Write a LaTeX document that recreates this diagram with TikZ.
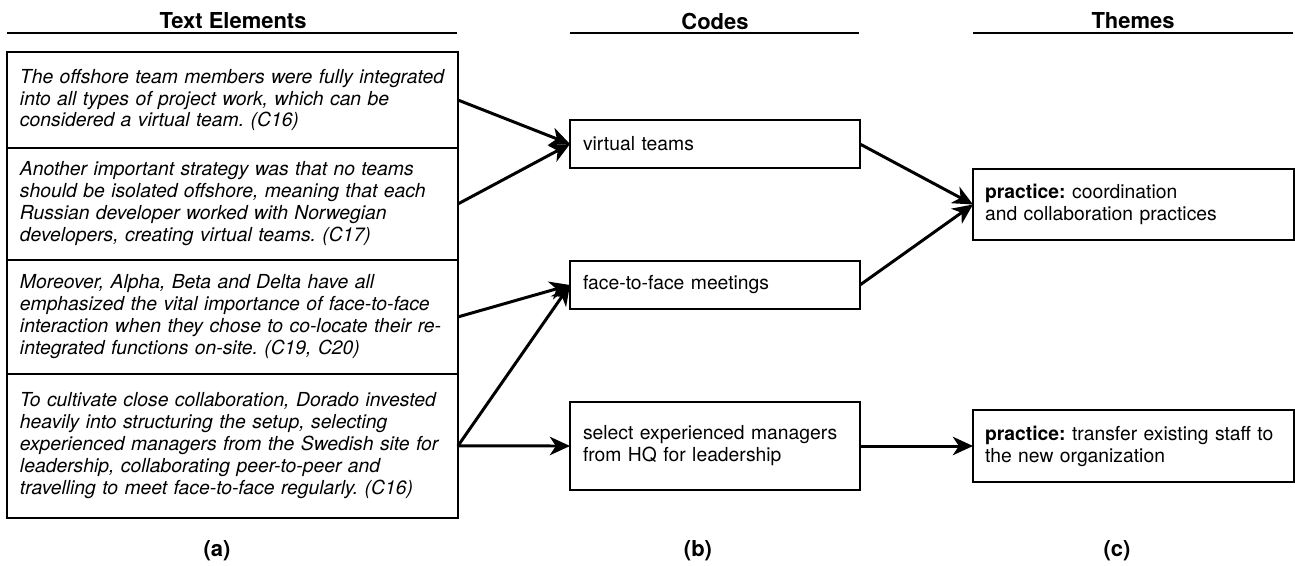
\documentclass[tikz,border=0pt]{standalone}
\usepackage{fontspec}
\setmainfont{TeX Gyre Heros}
\frenchspacing
\usetikzlibrary{positioning,arrows.meta}

\begin{document}
\begin{tikzpicture}[x=0.02cm,y=-0.02cm,
   head/.style={font=\fontsize{12.5}{14}\selectfont\bfseries},
   elembox/.style={draw,line width=0.7pt,outer sep=0pt,text width=8.5cm,align=left,inner xsep=0.26cm,minimum height=#1,font=\fontsize{11}{12.5}\selectfont\itshape},
   codebox/.style={draw,line width=0.7pt,outer sep=0pt,text width=5.28cm,align=left,inner xsep=0.26cm,minimum height=#1,font=\fontsize{11}{12.5}\selectfont},
   themebox/.style={draw,line width=0.7pt,outer sep=0pt,text width=5.94cm,align=left,inner xsep=0.24cm,minimum height=#1,font=\fontsize{11}{12.5}\selectfont},
   arr/.style={line width=1.7pt,-{Stealth[length=11.5pt,width=10.5pt,inset=3.5pt]}}]
   \useasboundingbox (0,0) rectangle (1295,565);
   \node [head] (hte) at (233,21) {Text Elements};
   \node [head] (hco) at (715,21) {Codes};
   \node [head] (hth) at (1133,21) {Themes};
   \draw [line width=1.6pt] (7,33) -- (457,33);
   \draw [line width=1.6pt] (570,33) -- (859,33);
   \draw [line width=1.6pt] (973,33) -- (1293,33);
   \node [elembox=1.92cm,anchor=north west] (te1) at (7,52) {The offshore team members were fully integrated\\into all types of project work, which can be\\considered a virtual team. (C16)};
   \node [elembox=2.24cm,below=0pt of te1] (te2) {Another important strategy was that no teams\\should be isolated offshore, meaning that each\\Russian developer worked with Norwegian\\developers, creating virtual teams. (C17)};
   \node [elembox=2.28cm,below=0pt of te2] (te3) {Moreover, Alpha, Beta and Delta have all\\emphasized the vital importance of face-to-face\\interaction when they chose to co-locate their re-\\integrated functions on-site. (C19, C20)};
   \node [elembox=2.88cm,below=0pt of te3] (te4) {To cultivate close collaboration, Dorado invested\\heavily into structuring the setup, selecting\\experienced managers from the Swedish site for\\leadership, collaborating peer-to-peer and\\travelling to meet face-to-face regularly. (C16)};
   \node [codebox=0.96cm,anchor=west] (vt) at (570,144) {virtual teams};
   \node [codebox=0.96cm,anchor=west] (ff) at (570,285) {face-to-face meetings};
   \node [codebox=1.76cm,anchor=west] (sel) at (570,446) {select experienced managers\\from HQ for leadership};
   \node [themebox=1.42cm,anchor=west] (co) at (973,204.5) {\textbf{practice:} coordination\\and collaboration practices};
   \node [themebox=1.44cm,anchor=west] (tr) at (973,446) {\textbf{practice:} transfer existing staff to\\the new organization};
   \draw [arr] (te1.east) -- (vt.west);
   \draw [arr] (te2.east) -- (vt.west);
   \draw [arr] (te3.east) -- (ff.west);
   \draw [arr] (te4.east) -- (ff.west);
   \draw [arr] (te4.east) -- (sel.west);
   \draw [arr] (vt.east) -- (co.west);
   \draw [arr] (ff.east) -- (co.west);
   \draw [arr] (sel.east) -- (tr.west);
   \node [head] (la) at (217,551) {(a)};
   \node [head] (lb) at (698,551) {(b)};
   \node [head] (lc) at (1117,551) {(c)};
\end{tikzpicture}
\end{document}
